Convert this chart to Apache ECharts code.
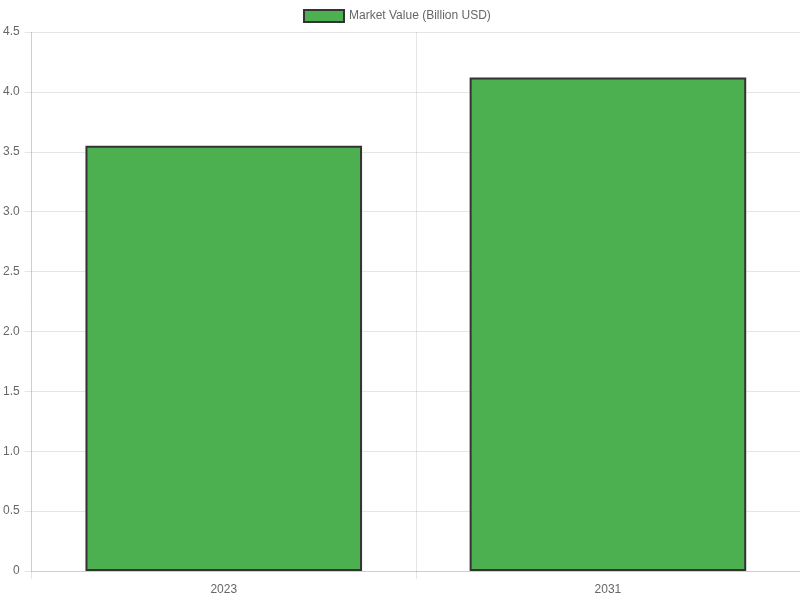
<!DOCTYPE html>
<html>
<head>
<meta charset="utf-8">
<script src="https://cdn.jsdelivr.net/npm/echarts@6/dist/echarts.min.js"></script>
<style>
  html, body { margin: 0; padding: 0; background: #fff; }
  #chart { width: 800px; height: 600px; }
</style>
</head>
<body>
<div id="chart"></div>
<script>
const years = ["2023", "2031"];
const marketValue = [3.55, 4.12];
const seriesName = "Market Value (Billion USD)";

document.addEventListener("DOMContentLoaded", () => {
  const chart = echarts.init(document.getElementById("chart"));
  const gridColor = "rgba(0,0,0,0.1)";
  chart.setOption({
    animation: false,
    textStyle: { fontFamily: "Liberation Sans, Arial, sans-serif" },
    legend: {
      data: [seriesName],
      top: 4,
      left: 298,
      itemWidth: 40,
      itemHeight: 12,
      icon: "rect",
      textStyle: { color: "#666", fontSize: 12 }
    },
    grid: { left: 31, right: 0, top: 32, bottom: 29, containLabel: false },
    xAxis: {
      type: "category",
      data: years,
      axisLine: { lineStyle: { color: gridColor } },
      axisTick: { show: true, length: 8, lineStyle: { color: gridColor } },
      splitLine: { show: true, lineStyle: { color: gridColor } },
      axisLabel: { color: "#666", fontSize: 12, margin: 13 }
    },
    yAxis: {
      type: "value",
      min: 0,
      max: 4.5,
      interval: 0.5,
      axisLine: { show: true, lineStyle: { color: gridColor } },
      axisTick: { show: true, length: 7, lineStyle: { color: gridColor } },
      splitLine: { show: true, lineStyle: { color: gridColor } },
      axisLabel: {
        color: "#666",
        fontSize: 12,
        margin: 12,
        formatter: v => (v === 0 ? "0" : v.toFixed(1))
      }
    },
    series: [
      {
        name: seriesName,
        type: "bar",
        data: marketValue,
        barCategoryGap: "28%",
        itemStyle: { color: "#4CAF50", borderColor: "#333", borderWidth: 2 }
      }
    ]
  });
});
</script>
</body>
</html>
